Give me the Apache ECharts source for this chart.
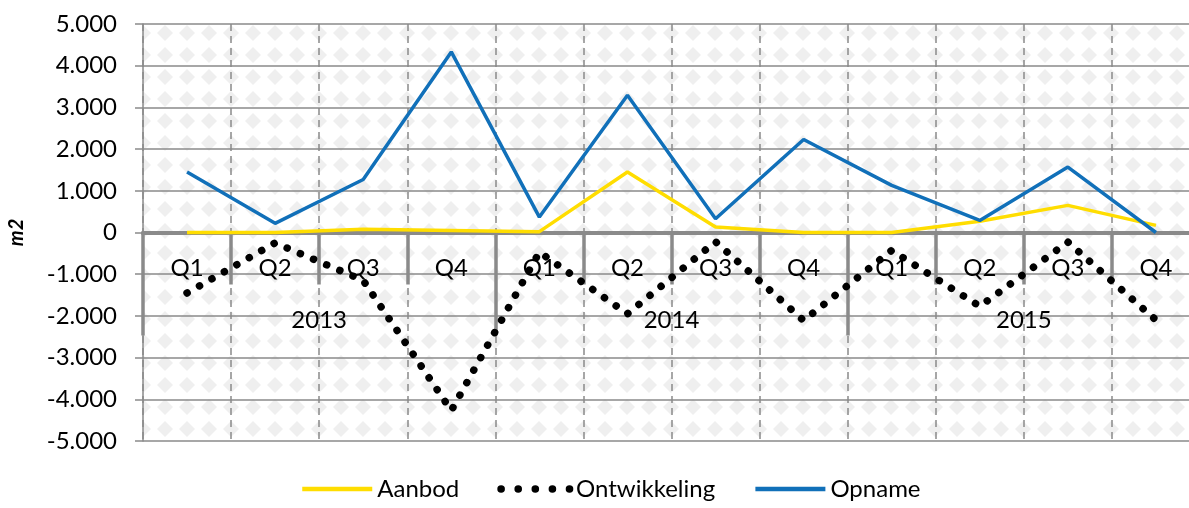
<!DOCTYPE html>
<html lang="nl">
<head>
    <meta charset="UTF-8">
    <title>Aanbod, ontwikkeling en opname</title>
    <style>
        html, body { margin: 0; padding: 0; background: #fff; }
        #main { width: 1189px; height: 508px; }
    </style>
    <script src="https://cdn.jsdelivr.net/npm/echarts@6/dist/echarts.min.js"></script>
</head>
<body>
<div id="main"></div>
<script>
    // data per kwartaal, 2013 t/m 2015
    const quarters = ['Q1', 'Q2', 'Q3', 'Q4', 'Q1', 'Q2', 'Q3', 'Q4', 'Q1', 'Q2', 'Q3', 'Q4']
    const years = ['2013', '2014', '2015']
    const aanbod = [0, 0, 80, 50, 20, 1450, 130, 0, 0, 270, 650, 170]
    const ontwikkeling = [-1450, -250, -1150, -4270, -470, -1950, -220, -2110, -430, -1770, -230, -2100]
    const opname = [1450, 220, 1270, 4330, 370, 3290, 330, 2230, 1130, 290, 1570, 0]

    const font = 'Lato, "Liberation Sans", sans-serif'
    const grey = '#8a8a8a'
    const yellow = '#ffdd00'
    const blue = '#1170b9'
    const plotTop = 24
    const plotHeight = 417
    // afstand van de onderrand van het plotvlak tot de nullijn
    const zeroOffset = -plotHeight / 2
    const dots = { color: '#000', width: 7.5, type: [0.1, 14.2], cap: 'round' }

    // ruitjespatroon voor de achtergrond van het plotvlak
    function diamondTile() {
        const c = document.createElement('canvas')
        c.width = 22
        c.height = 22
        const ctx = c.getContext('2d')
        ctx.fillStyle = '#ffffff'
        ctx.fillRect(0, 0, 22, 22)
        ctx.fillStyle = '#efefef'
        ctx.beginPath()
        ctx.moveTo(11, 3)
        ctx.lineTo(19, 11)
        ctx.lineTo(11, 19)
        ctx.lineTo(3, 11)
        ctx.closePath()
        ctx.fill()
        return c
    }

    function fmt(v) {
        const s = String(Math.abs(v)).replace(/\B(?=(\d{3})+(?!\d))/g, '.')
        return (v < 0 ? '-' : '') + s
    }

    const chart = echarts.init(document.getElementById('main'))
    chart.setOption({
        animation: false,
        textStyle: { fontFamily: font, color: '#000' },
        grid: {
            left: 143, top: plotTop, width: 1057, height: plotHeight,
            outerBoundsMode: 'none', containLabel: false,
            show: true, borderWidth: 0,
            backgroundColor: { image: diamondTile(), repeat: 'repeat' }
        },
        legend: {
            left: 295, bottom: 2,
            itemWidth: 70, itemHeight: 10, itemGap: 38,
            itemStyle: { opacity: 0 },
            textStyle: { fontFamily: font, fontSize: 24, color: '#000' },
            data: [
                { name: 'Aanbod', lineStyle: { color: yellow, width: 4.5 } },
                { name: 'Ontwikkeling', lineStyle: { color: '#000', width: 7.5, type: [0.1, 17], cap: 'round' } },
                { name: 'Opname', lineStyle: { color: blue, width: 4.5 } }
            ]
        },
        xAxis: [
            {
                type: 'category',
                data: quarters,
                position: 'bottom',
                offset: zeroOffset,
                z: 3,
                axisLine: { show: true, onZero: false, lineStyle: { color: grey, width: 4 } },
                axisTick: { show: true, length: 52, lineStyle: { color: grey, width: 3.5 } },
                axisLabel: { margin: 24, fontSize: 24, color: '#000', interval: 0 },
                splitLine: { show: true, interval: 0, lineStyle: { color: grey, width: 1.5, type: [7, 5] } }
            },
            {
                type: 'category',
                data: years,
                position: 'top',
                offset: zeroOffset,
                z: 3,
                axisLine: { show: true, onZero: false, lineStyle: { color: grey, width: 4 } },
                axisTick: { show: true, inside: true, length: 103, lineStyle: { color: grey, width: 3.5 } },
                axisLabel: { inside: true, margin: 76, fontSize: 24, color: '#000', interval: 0 },
                splitLine: { show: false }
            }
        ],
        yAxis: {
            type: 'value',
            min: -5000, max: 5000, interval: 1000,
            name: 'm2',
            nameLocation: 'middle',
            nameGap: 116,
            nameTextStyle: { fontFamily: font, fontSize: 20, fontWeight: 'bold', fontStyle: 'italic', color: '#000' },
            axisLine: { show: true, lineStyle: { color: grey, width: 1.5 } },
            axisTick: { show: true, length: 8, lineStyle: { color: grey, width: 1.5 } },
            axisLabel: { margin: 26, fontSize: 24, color: '#000', formatter: fmt },
            splitLine: { lineStyle: { color: grey, width: 1.5 } }
        },
        series: [
            {
                name: 'Aanbod', type: 'line', data: aanbod, z: 5,
                symbol: 'none', color: yellow,
                lineStyle: { color: yellow, width: 3.5 }
            },
            {
                name: 'Ontwikkeling', type: 'line', data: ontwikkeling, z: 4,
                symbol: 'none', color: '#000',
                lineStyle: dots
            },
            {
                name: 'Opname', type: 'line', data: opname, z: 6,
                symbol: 'none', color: blue,
                lineStyle: { color: blue, width: 3.5 }
            }
        ]
    })
</script>
</body>
</html>
